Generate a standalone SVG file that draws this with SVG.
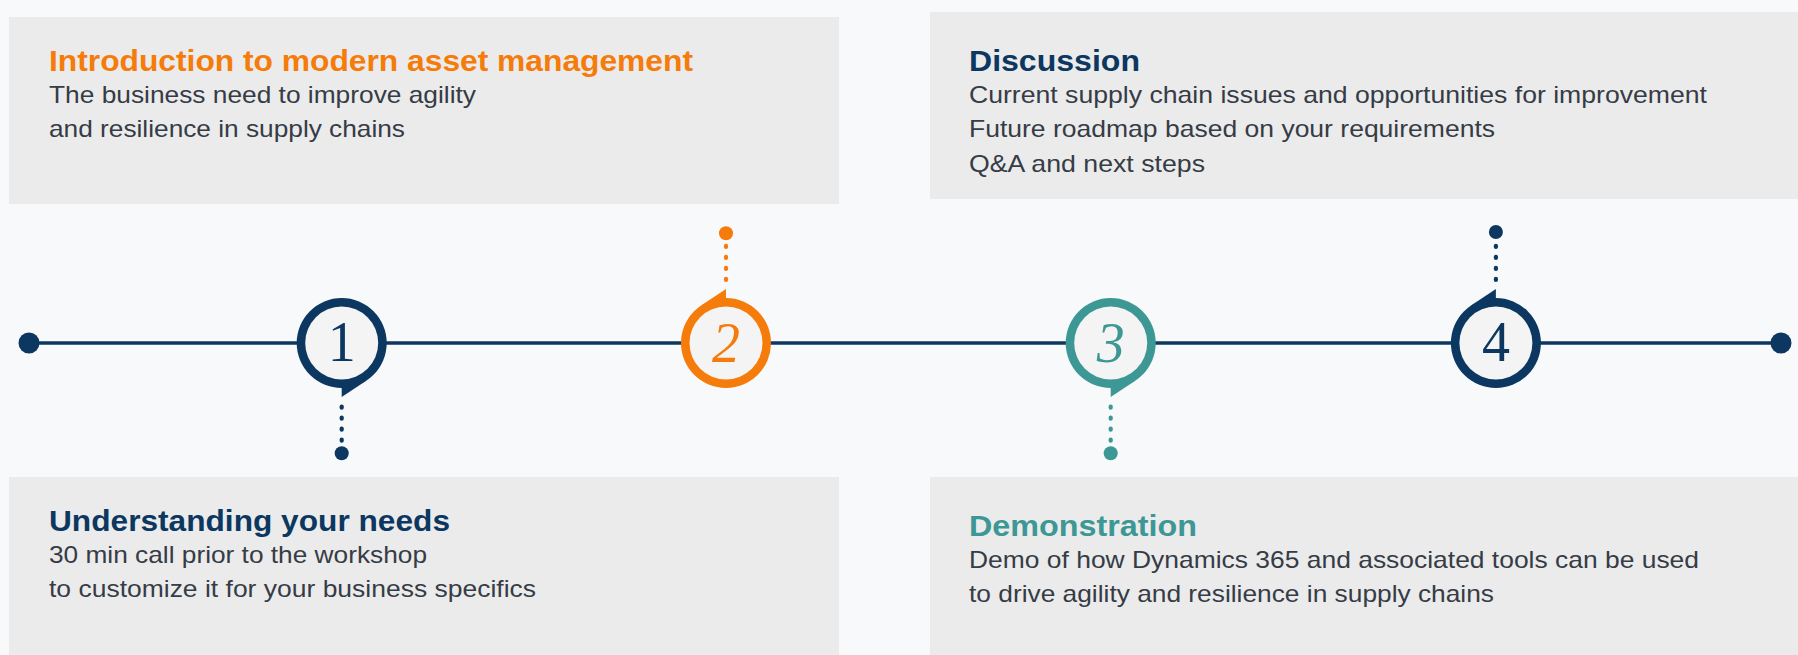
<svg xmlns="http://www.w3.org/2000/svg" width="1798" height="655" viewBox="0 0 1798 655">
<style>
.box{fill:#ebebeb}
.title{font-family:"Liberation Sans",Arial,sans-serif;font-weight:bold;font-size:30px}
.body{font-family:"Liberation Sans",Arial,sans-serif;font-size:24px;fill:#363c46}
.num{font-family:"Liberation Serif","Times New Roman",serif;font-size:56px;text-anchor:middle}
.navy{fill:#0c3761}.orange{fill:#f57b0a}.teal{fill:#3d9895}
.inner{fill:#f4f4f4}
.dots{stroke-width:4.2;stroke-linecap:round;stroke-dasharray:1.2 9.8;fill:none}
</style>
<rect width="1798" height="655" fill="#f8f9fb"/>

<g id="connectors">
  <line x1="29" y1="343" x2="1781" y2="343" stroke="#0c3761" stroke-width="3.5"/>
  <circle cx="29" cy="343" r="10.5" class="navy"/>
  <circle cx="1781" cy="343" r="10.5" class="navy"/>
  <line class="dots" x1="341.7" y1="406.5" x2="341.7" y2="441" stroke="#0c3761"/>
  <circle cx="341.7" cy="453.3" r="7" class="navy"/>
  <line class="dots" x1="726" y1="280" x2="726" y2="245" stroke="#f57b0a"/>
  <circle cx="726" cy="233.3" r="7" class="orange"/>
  <line class="dots" x1="1110.7" y1="406.5" x2="1110.7" y2="441" stroke="#3d9895"/>
  <circle cx="1110.7" cy="453.3" r="7" class="teal"/>
  <line class="dots" x1="1495.9" y1="280" x2="1495.9" y2="245" stroke="#0c3761"/>
  <circle cx="1495.9" cy="232" r="7" class="navy"/>
</g>

<g id="step1" transform="translate(341.7,343)">
  <circle r="45" class="navy"/>
  <polygon points="0,30 0,54 24.9,37.5" class="navy"/>
  <circle r="36.5" class="inner"/>
  <text class="num navy" x="0" y="18">1</text>
</g>
<g id="step2" transform="translate(726,343)">
  <circle r="45" class="orange"/>
  <polygon points="0,-30 0,-54 -24.9,-37.5" class="orange"/>
  <circle r="36.5" class="inner"/>
  <text class="num orange" x="0" y="19" font-style="italic">2</text>
</g>
<g id="step3" transform="translate(1110.7,343)">
  <circle r="45" class="teal"/>
  <polygon points="0,30 0,54 24.9,37.5" class="teal"/>
  <circle r="36.5" class="inner"/>
  <text class="num teal" x="0" y="19" font-style="italic">3</text>
</g>
<g id="step4" transform="translate(1495.9,343)">
  <circle r="45" class="navy"/>
  <polygon points="0,-30 0,-54 -24.9,-37.5" class="navy"/>
  <circle r="36.5" class="inner"/>
  <text class="num navy" x="0" y="18">4</text>
</g>

<g id="box-intro">
  <rect class="box" x="9" y="17" width="830" height="187"/>
  <text class="title orange" x="49" y="70.7" textLength="644" lengthAdjust="spacingAndGlyphs">Introduction to modern asset management</text>
  <text class="body" x="49" y="103.3" textLength="427" lengthAdjust="spacingAndGlyphs">The business need to improve agility</text>
  <text class="body" x="49" y="137.3" textLength="356" lengthAdjust="spacingAndGlyphs">and resilience in supply chains</text>
</g>
<g id="box-discussion">
  <rect class="box" x="930" y="12" width="868" height="187"/>
  <text class="title navy" x="969" y="70.7" textLength="171" lengthAdjust="spacingAndGlyphs">Discussion</text>
  <text class="body" x="969" y="103.3" textLength="738" lengthAdjust="spacingAndGlyphs">Current supply chain issues and opportunities for improvement</text>
  <text class="body" x="969" y="137.3" textLength="526" lengthAdjust="spacingAndGlyphs">Future roadmap based on your requirements</text>
  <text class="body" x="969" y="171.7" textLength="236" lengthAdjust="spacingAndGlyphs">Q&amp;A and next steps</text>
</g>
<g id="box-needs">
  <rect class="box" x="9" y="477" width="830" height="178"/>
  <text class="title navy" x="49" y="530.7" textLength="401" lengthAdjust="spacingAndGlyphs">Understanding your needs</text>
  <text class="body" x="49" y="563.3" textLength="378" lengthAdjust="spacingAndGlyphs">30 min call prior to the workshop</text>
  <text class="body" x="49" y="596.7" textLength="487" lengthAdjust="spacingAndGlyphs">to customize it for your business specifics</text>
</g>
<g id="box-demo">
  <rect class="box" x="930" y="477" width="868" height="178"/>
  <text class="title teal" x="969" y="536" textLength="228" lengthAdjust="spacingAndGlyphs">Demonstration</text>
  <text class="body" x="969" y="568.3" textLength="730" lengthAdjust="spacingAndGlyphs">Demo of how Dynamics 365 and associated tools can be used</text>
  <text class="body" x="969" y="601.7" textLength="525" lengthAdjust="spacingAndGlyphs">to drive agility and resilience in supply chains</text>
</g>
</svg>
